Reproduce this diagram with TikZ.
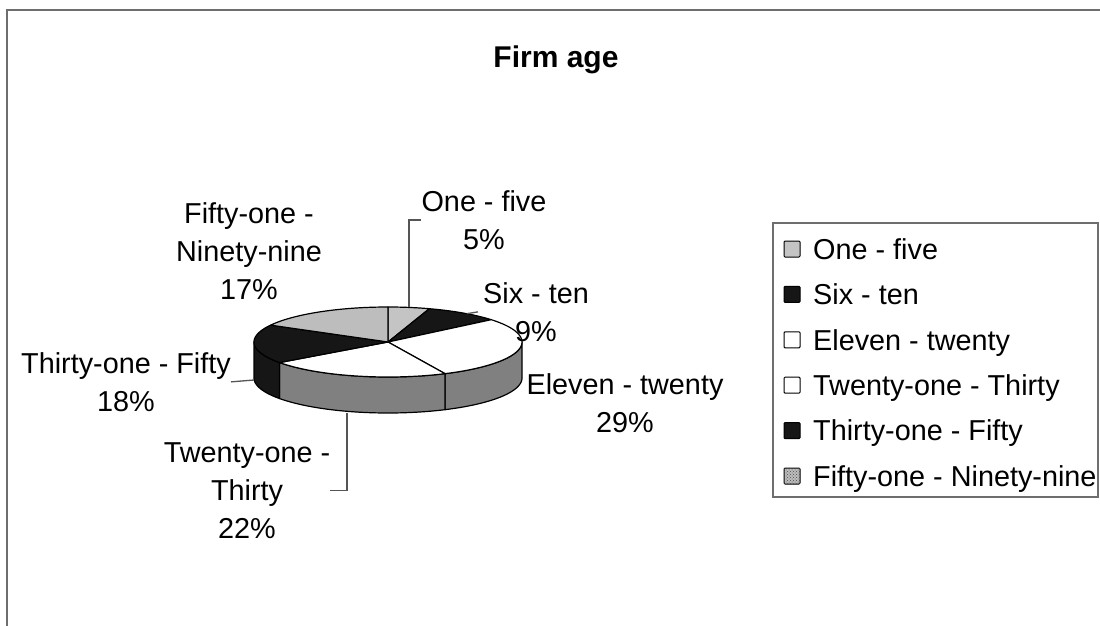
\documentclass[tikz,border=0pt]{standalone}
\usepackage{fontspec}
\setmainfont{Liberation Sans}
\usetikzlibrary{patterns}
\definecolor{framecol}{HTML}{6E6E6E}
\definecolor{leadcol}{HTML}{555555}
\definecolor{sidegrey}{HTML}{808080}
\definecolor{topgreyA}{HTML}{C4C4C4}
\definecolor{topgreyB}{HTML}{BDBDBD}
\definecolor{darkslice}{HTML}{161616}
% pie geometry (pt, y pointing down)
\def\cx{388}\def\cy{342}\def\rx{134}\def\ry{35}\def\dep{36}
% side band of the pie between two angles (clockwise from 12 o'clock)
\newcommand\pieside[3]{%
  \filldraw[fill=#3, draw=black, line width=1.2pt, line join=round]
    plot[domain=#1:#2, samples=40] ({\cx+\rx*sin(\x)},{\cy-\ry*cos(\x)})
    -- plot[domain=#2:#1, samples=40] ({\cx+\rx*sin(\x)},{\cy+\dep-\ry*cos(\x)})
    -- cycle;}
% top face of one slice
\newcommand\pietop[3]{%
  \filldraw[fill=#3, draw=black, line width=1.2pt, line join=round]
    (\cx,\cy) -- plot[domain=#1:#2, samples=40] ({\cx+\rx*sin(\x)},{\cy-\ry*cos(\x)})
    -- cycle;}
\begin{document}
\begin{tikzpicture}[x=1pt,y=-1pt,
  lbl/.style={font=\fontsize{28.8}{38.2}\selectfont, align=center, inner sep=0pt, anchor=north},
  legtext/.style={font=\fontsize{28.8}{34}\selectfont, inner sep=0pt, anchor=base west},
  legmark/.style={draw=black, line width=1pt, minimum size=16pt, inner sep=0pt, rounded corners=1pt},
  leader/.style={draw=leadcol, line width=1.3pt},
  titlestyle/.style={font=\fontsize{30}{36}\selectfont\bfseries, inner sep=0pt, anchor=north}]
\useasboundingbox (0,0) rectangle (1100,626);
\fill[white] (0,0) rectangle (1100,626);

% chart frame
\draw[framecol, line width=2.5pt] (1100,10) -- (7,10) -- (7,626);

% title
\node[titlestyle] (title) at (556,46) {Firm age};

% pie: visible side bands
\pieside{90}{154.8}{sidegrey}
\pieside{154.8}{234}{sidegrey}
\pieside{234}{270}{darkslice}

% pie: top faces
\pietop{0}{18}{topgreyA}
\pietop{18}{50.4}{darkslice}
\pietop{50.4}{154.8}{white}
\pietop{154.8}{234}{white}
\pietop{234}{298.8}{darkslice}
\pietop{298.8}{360}{topgreyB}

% anchor points for leader lines
\coordinate (a1) at ({\cx+\rx*sin(9)},{\cy-\ry*cos(9)});
\coordinate (a2) at ({\cx+\rx*sin(36)},{\cy-\ry*cos(36)});
\coordinate (a4) at (347,413);
\coordinate (a5) at (254,380);

% data labels
\node[lbl] (l1) at (484,190) {One - five\\5\%};
\node[lbl] (l2) at (536,282) {Six - ten\\9\%};
\node[lbl] (l3) at (625,373) {Eleven - twenty\\29\%};
\node[lbl] (l4) at (247,442) {Twenty-one -\\Thirty\\22\%};
\node[lbl] (l5) at (126,352) {Thirty-one - Fifty\\18\%};
\node[lbl] (l6) at (249,202) {Fifty-one -\\Ninety-nine\\17\%};

% leader lines
\draw[leader] (a1) |- (l1.west);
\draw[leader] (a2) -- ([xshift=-5pt]l2.west);
\draw[leader] (a4) |- (l4.east);
\draw[leader] (a5) -- (l5.east);

% legend
\node[draw=framecol, line width=1.5pt, minimum width=325pt, minimum height=274pt, inner sep=0pt] (legend) at (935.5,360) {};
\node[legmark, fill=topgreyA] (m1) at (792,249) {};
\node[legmark, fill=darkslice] (m2) at (792,294.4) {};
\node[legmark, fill=white] (m3) at (792,339.8) {};
\node[legmark, fill=white] (m4) at (792,385.2) {};
\node[legmark, fill=darkslice] (m5) at (792,430.6) {};
\node[legmark, fill=topgreyB, postaction={pattern=crosshatch dots, pattern color=black!70}] (m6) at (792,476) {};
\node[legtext] (t1) at (813,259.3) {One - five};
\node[legtext] (t2) at (813,304.7) {Six - ten};
\node[legtext] (t3) at (813,350.1) {Eleven - twenty};
\node[legtext] (t4) at (813,395.5) {Twenty-one - Thirty};
\node[legtext] (t5) at (813,440.9) {Thirty-one - Fifty};
\node[legtext] (t6) at (813,486.3) {Fifty-one - Ninety-nine};
\end{tikzpicture}
\end{document}
